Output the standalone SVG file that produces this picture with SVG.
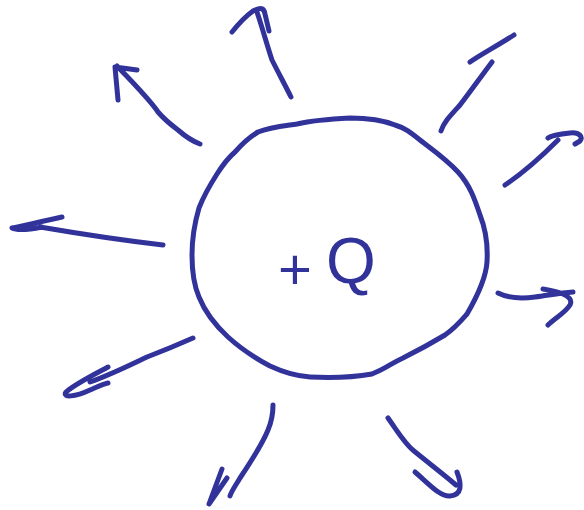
<svg xmlns="http://www.w3.org/2000/svg" width="584" height="510" viewBox="0 0 584 510">
<style>
.s{fill:none;stroke:#32339a;stroke-width:5;stroke-linecap:round;stroke-linejoin:round}
.t{font-family:"Liberation Sans",Arial,sans-serif;fill:#32339a}
</style>
<rect width="584" height="510" fill="#fff"/>
<g id="charge">
<path class="s" d="M297,124 C310,121 330,119 350,118 C370,118 385,121 395,125 C405,128 410,132 420,140 C430,148 445,158 458,172 C470,185 475,200 480,215 C486,230 488,245 487,262 C486,278 478,295 467,314 C460,322 455,328 445,335 C430,344 415,352 403,358 C390,364 385,369 372,374 C355,377 330,378 310,377 C295,376 285,373 270,366 C255,358 240,348 228,337 C215,325 205,312 199,297 C193,283 192,268 192,255 C192,240 194,225 199,208 C204,195 210,185 217,174 C224,163 228,158 235,152 C242,144 248,138 258,132 C270,127 283,126 297,124 Z"/>
<text class="t" x="278" y="289"><tspan font-size="58">+</tspan><tspan dx="14" y="283" font-size="64">Q</tspan></text>
</g>
<g id="field-lines">
<path class="s" d="M163,245 C120,240 75,233 40,227 M62,217 C45,221 25,225 12,228 C18,231 32,229 42,227"/>
<path class="s" d="M200,144 C192,141 186,137 178,130 C170,124 164,119 158,112 C150,100 135,85 117,66 M118,100 L115,67 L137,70"/>
<path class="s" d="M291,97 C285,85 278,72 272,60 C267,45 263,30 257,12 M232,32 C240,22 246,16 253,11 C261,7 264,8 265,14 L269,31"/>
<path class="s" d="M441,131 C444,122 450,116 460,105 C470,92 480,78 492,62 M470,62 C480,55 495,47 514,35"/>
<path class="s" d="M505,185 C520,175 540,158 558,140 M548,138 C552,135 560,134 570,133 C580,132 583,137 580,141 L575,144"/>
<path class="s" d="M498,293 C508,298 520,299 535,297 C550,295 560,293 573,292 M543,289 C555,291 575,295 570,305 C565,313 555,318 548,325"/>
<path class="s" d="M388,418 C398,432 405,444 414,451 C430,464 448,478 456,485 M415,472 C428,483 440,497 450,496 C462,495 462,485 457,472"/>
<path class="s" d="M273,405 C273,415 271,423 268,430 C262,445 252,460 240,478 C236,485 232,490 230,496 M222,469 L209,504 L227,478"/>
<path class="s" d="M193,338 C175,346 160,352 147,357 C128,366 110,375 90,382 M108,367 C95,374 75,384 66,392 C62,398 75,397 90,390 C97,387 103,384 108,383"/>
</g>
</svg>
